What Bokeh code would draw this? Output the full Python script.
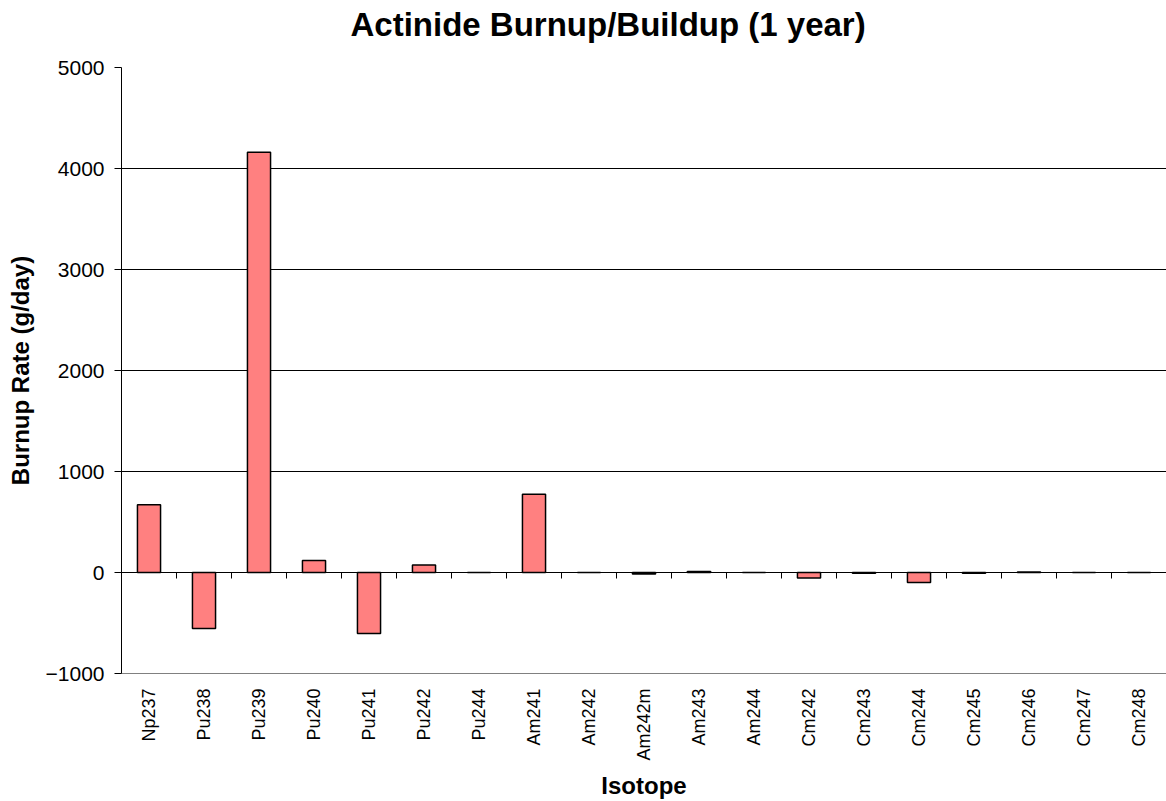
import math
from bokeh.plotting import figure
from bokeh.models import Range1d, FixedTicker, LinearAxis, ColumnDataSource
from bokeh.embed import file_html
from bokeh.resources import INLINE

isotopes = ["Np237", "Pu238", "Pu239", "Pu240", "Pu241", "Pu242", "Pu244",
            "Am241", "Am242", "Am242m", "Am243", "Am244", "Cm242", "Cm243",
            "Cm244", "Cm245", "Cm246", "Cm247", "Cm248"]
rates = [670, -555, 4160, 120, -605, 75, 0, 775, 0, -15, 10, 0,
         -55, -8, -100, -8, 5, 0, 0]
y_ticks = [-1000, 0, 1000, 2000, 3000, 4000, 5000]

FONT = "Liberation Sans"
n = len(isotopes)
centers = [i + 0.5 for i in range(n)]
bounds = list(range(n + 1))
src = ColumnDataSource(dict(x=centers, top=rates, name=isotopes))

p = figure(width=1166, height=801, output_backend="svg", toolbar_location=None,
           x_range=Range1d(0, n), y_range=Range1d(y_ticks[0], y_ticks[-1]),
           min_border_left=121, min_border_right=0, min_border_top=67,
           min_border_bottom=128)

p.title.text = "Actinide Burnup/Buildup (1 year)"
p.title.text_font = FONT
p.title.text_font_size = "33px"
p.title.text_font_style = "bold"
p.title.text_color = "black"
p.title.align = "left"
p.title.offset = 229
p.title.standoff = 4
try:
    p.title.padding = (0, 0, 0, 23)
except Exception:
    pass

p.vbar(x="x", top="top", bottom=0, width=0.42, source=src,
       fill_color="#FF8080", line_color="black", line_width=1.5)

# grid
p.xgrid.visible = False
p.ygrid.ticker = FixedTicker(ticks=y_ticks)
p.ygrid.grid_line_color = "black"
p.ygrid.grid_line_width = 1
p.outline_line_color = None

# y axis
ya = p.yaxis[0]
ya.ticker = FixedTicker(ticks=y_ticks)
ya.axis_label = "Burnup Rate (g/day)"
ya.axis_label_text_font = FONT
ya.axis_label_text_font_size = "24px"
ya.axis_label_text_font_style = "bold"
ya.axis_label_text_color = "black"
ya.axis_label_standoff = 9
ya.major_label_text_font = FONT
ya.major_label_text_font_size = "21px"
ya.major_label_text_color = "black"
ya.major_label_standoff = 10
ya.major_tick_in = 0
ya.major_tick_out = 7
ya.minor_tick_line_color = None
ya.axis_line_color = "black"
ya.major_tick_line_color = "black"

# bottom axis with category labels
xa = p.xaxis[0]
xa.ticker = FixedTicker(ticks=centers)
xa.major_label_overrides = {c: s for c, s in zip(centers, isotopes)}
xa.major_label_orientation = math.pi / 2
xa.major_label_text_font = FONT
xa.major_label_text_font_size = "18px"
xa.major_label_text_color = "black"
xa.major_label_standoff = 15
xa.major_tick_in = 0
xa.major_tick_out = 0
xa.major_tick_line_color = None
xa.minor_tick_line_color = None
xa.axis_line_color = "#808080"
xa.axis_label = "Isotope"
xa.axis_label_text_font = FONT
xa.axis_label_text_font_size = "24px"
xa.axis_label_text_font_style = "bold"
xa.axis_label_text_color = "black"
xa.axis_label_standoff = 8

# zero axis with ticks at category boundaries (drawn at y=0, ticks pointing down)
za = LinearAxis(fixed_location=0, ticker=FixedTicker(ticks=bounds),
                major_label_overrides={b: "" for b in bounds},
                major_tick_in=6, major_tick_out=0,
                minor_tick_line_color=None, axis_line_color="black",
                major_tick_line_color="black")
p.add_layout(za, "above")

open("out.html", "w").write(file_html(p, INLINE))
